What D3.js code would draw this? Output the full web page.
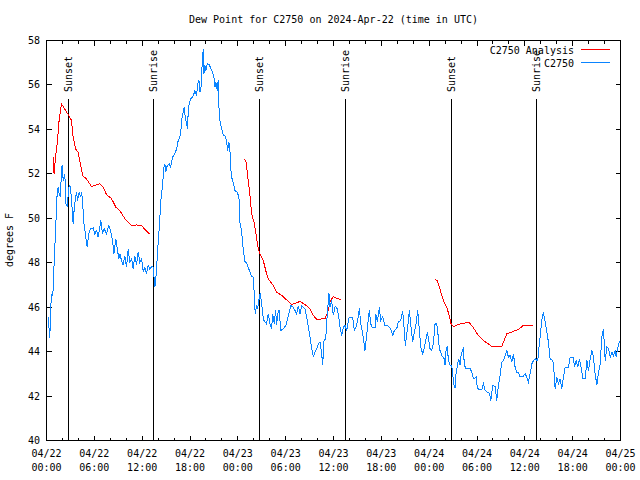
<!DOCTYPE html>
<html><head><meta charset="utf-8">
<script src="https://cdn.jsdelivr.net/npm/d3@7"></script>
<style>
html,body{margin:0;padding:0;background:#fff;}
svg text{font-family:"DejaVu Sans Mono","Liberation Mono",monospace;font-size:10px;fill:#000;}
</style></head>
<body><svg id="c" width="640" height="480"></svg>
<script>
// ---- data (hours since 2024-04-22 00:00 UTC) ----
const titleText = "Dew Point for C2750 on 2024-Apr-22 (time in UTC)";
const yLabel = "degrees F";
const seriesNames = ["C2750 Analysis", "C2750"];
const seriesColors = ["#ff0000", "#0a84ff"];

const yTicks = [40, 42, 44, 46, 48, 50, 52, 54, 56, 58];
const xTickHours = [0, 6, 12, 18, 24, 30, 36, 42, 48, 54, 60, 66, 72];
const xTickDates = ["04/22","04/22","04/22","04/22","04/23","04/23","04/23","04/23","04/24","04/24","04/24","04/24","04/25"];
const xTickTimes = ["00:00","06:00","12:00","18:00","00:00","06:00","12:00","18:00","00:00","06:00","12:00","18:00","00:00"];

const sunHours = [2.71, 13.38, 26.69, 37.53, 50.75, 61.50];
const sunLabels = ["Sunset", "Sunrise", "Sunset", "Sunrise", "Sunset", "Sunrise"];

// Analysis series (null = gap)
const analysisHours = [0.83,0.95,1.13,1.38,1.58,1.88,2.30,2.71,3.14,3.34,3.68,3.97,4.39,4.59,5.02,5.65,6.06,6.69,7.10,7.53,8.16,8.70,9.20,9.83,10.67,11.30,11.92,12.46,12.88,
  18.0,
  24.80,25.02,25.18,25.30,25.52,25.73,26.02,26.27,26.56,26.77,27.19,27.61,27.82,28.44,28.87,29.50,30.12,30.75,31.38,31.79,32.42,33.05,33.46,33.89,34.93,35.35,35.56,35.97,36.40,36.94,
  42.0,
  48.74,49.03,49.28,49.58,49.87,50.21,50.50,50.75,51.04,51.66,52.29,53.04,53.55,54.17,54.80,55.43,55.86,57.11,57.74,58.37,59.19,59.75,61.00];
const analysisValues = [52.75,52.0,52.75,53.5,54.4,55.15,54.9,54.67,54.4,53.65,53.1,52.97,52.2,51.9,51.77,51.43,51.48,51.55,51.4,51.07,50.88,50.5,50.35,49.98,49.68,49.7,49.68,49.45,49.3,
  null,
  52.68,52.53,52.08,51.7,51.03,50.2,49.83,49.3,48.63,48.4,48.1,47.5,47.28,46.98,46.68,46.53,46.33,46.12,46.2,46.26,46.12,45.93,45.63,45.45,45.48,45.85,46.26,46.48,46.4,46.33,
  null,
  47.23,47.2,46.9,46.53,46.22,46.0,45.63,45.25,45.13,45.22,45.28,45.31,45.07,44.73,44.5,44.35,44.23,44.23,44.8,44.88,45.0,45.16,45.16];

// Observed series
const obsHours = [0.20,0.33,0.41,0.54,0.67,0.79,0.92,1.04,1.17,1.26,1.46,1.58,1.76,1.88,2.01,2.08,2.30,2.42,2.59,2.84,3.01,3.14,3.26,3.34,3.46,3.64,3.77,3.89,4.09,4.27,4.39,4.52,4.68,4.93,5.10,5.31,5.52,5.85,6.06,6.28,6.48,6.69,6.82,7.03,7.23,7.53,7.82,8.03,8.28,8.45,8.70,8.91,9.08,9.20,9.41,9.61,9.83,10.04,10.24,10.46,10.67,10.87,11.08,11.30,11.50,11.71,11.92,12.13,12.34,12.55,12.75,12.97,13.18,13.38,13.59,13.81,13.88,14.13,14.35,14.56,14.72,14.85,14.97,15.14,15.39,15.56,15.82,16.10,16.32,16.52,16.73,16.86,16.95,17.15,17.27,17.40,17.57,17.70,17.77,17.90,18.07,18.33,18.49,18.61,18.83,18.95,19.12,19.24,19.37,19.53,19.66,19.74,19.87,20.00,20.16,20.41,20.62,20.84,21.00,21.13,21.25,21.41,21.54,21.63,21.75,21.97,22.17,22.38,22.59,22.72,22.88,23.01,23.10,23.22,23.42,23.64,23.92,24.14,24.26,24.48,24.68,24.89,25.10,25.30,25.52,25.73,25.93,26.06,26.18,26.36,26.48,26.65,26.81,26.99,27.11,27.28,27.61,27.82,28.03,28.24,28.37,28.57,28.74,28.87,29.00,29.20,29.37,29.70,30.04,30.33,30.66,30.95,31.17,31.38,31.58,31.79,32.01,32.21,32.42,32.64,32.84,33.05,33.26,33.46,33.68,33.89,34.09,34.31,34.52,34.64,34.81,35.02,35.22,35.43,35.56,35.77,35.97,36.19,36.40,36.60,36.82,37.03,37.23,37.44,37.66,37.94,38.41,38.61,38.82,39.04,39.24,39.41,39.58,39.74,39.95,40.17,40.37,40.49,40.67,40.87,41.21,41.33,41.50,41.75,41.92,42.17,42.46,42.88,43.18,43.43,43.63,43.93,44.13,44.43,44.68,44.85,45.01,45.19,45.35,45.51,45.73,45.94,46.10,46.35,46.57,46.77,46.94,47.19,47.40,47.61,47.77,47.95,48.11,48.32,48.53,48.74,48.95,49.15,49.28,49.58,49.87,49.99,50.12,50.28,50.41,50.62,50.84,50.96,51.12,51.25,51.37,51.54,51.71,51.88,52.00,52.17,52.29,52.38,52.54,52.79,53.13,53.35,53.55,53.89,54.05,54.60,54.80,55.02,55.30,55.56,55.73,55.98,56.27,56.48,56.68,56.90,57.11,57.31,57.53,57.74,57.94,58.15,58.37,58.57,58.78,58.99,59.19,59.41,59.62,59.82,60.04,60.25,60.45,60.66,60.88,61.08,61.29,61.50,61.63,61.79,61.92,62.13,62.33,62.55,62.76,62.96,63.17,63.51,63.71,63.80,64.01,64.22,64.43,64.64,64.84,65.06,65.47,65.68,66.10,66.22,66.44,66.65,66.85,67.06,67.28,67.57,67.78,67.98,68.20,68.41,68.61,68.82,69.04,69.24,69.45,69.66,69.86,70.08,70.29,70.49,70.71,70.92,71.12,71.34,71.46,71.62,71.84,71.96];
const obsValues = [45.55,45.0,44.6,46.07,46.6,46.5,47.65,48.7,49.6,50.8,51.4,51.1,50.95,52.3,52.37,51.7,52.0,50.65,50.57,51.48,51.4,50.8,50.2,49.75,50.35,50.95,51.17,50.8,51.17,50.95,51.17,50.8,49.82,49.15,48.7,49.3,49.53,49.57,49.3,49.45,49.15,49.6,49.9,49.3,49.53,49.3,49.68,49.45,49.0,48.4,49.08,48.55,48.18,48.4,48.1,47.9,48.3,47.8,48.6,48.0,48.2,47.7,48.3,47.9,48.5,48.0,48.2,47.6,47.8,47.5,47.9,47.7,47.83,47.8,46.9,47.65,48.25,49.53,50.8,51.48,52.3,52.45,52.08,52.37,52.45,52.3,52.75,52.9,53.13,53.5,53.65,53.95,54.4,54.78,55.0,54.55,54.25,54.03,54.78,55.15,55.38,55.45,55.6,55.75,55.53,56.05,56.2,55.68,55.83,56.95,57.63,56.5,56.88,56.65,56.95,56.92,56.73,56.58,56.35,55.9,56.13,55.75,56.2,55.0,54.4,54.03,53.73,53.73,53.5,53.05,53.43,53.05,52.3,51.85,51.6,51.25,51.17,50.95,49.83,49.4,48.6,48.05,48.0,47.8,47.57,47.4,47.35,46.6,45.7,46.07,45.93,46.33,46.63,46.15,45.7,45.4,45.25,45.7,45.25,45.03,45.7,45.25,45.85,45.18,45.7,45.88,44.95,45.03,45.18,45.63,46.07,46.0,45.85,45.7,46.07,45.7,46.07,46.0,45.93,45.55,45.1,44.65,44.13,43.78,43.97,44.13,44.35,44.43,43.9,43.4,44.5,44.58,45.7,46.63,46.0,46.3,45.63,46.03,46.0,45.7,45.1,44.7,45.1,45.18,44.95,45.52,45.52,44.95,45.1,45.4,45.95,45.3,44.95,44.65,44.05,44.75,45.5,45.85,45.25,45.07,45.07,45.67,45.33,46.0,45.4,45.55,45.18,45.15,45.03,44.73,44.95,45.03,45.33,45.4,45.82,45.1,44.27,44.8,45.25,45.85,45.1,44.43,44.8,45.25,45.85,44.95,44.2,43.9,44.2,44.58,44.88,44.5,44.13,44.05,44.35,45.25,45.25,44.65,44.13,43.83,43.68,43.38,44.05,44.23,43.6,43.38,43.38,42.93,42.48,42.37,43.0,43.38,43.68,43.38,43.83,44.05,44.13,43.6,43.23,43.25,43.25,43.07,42.78,42.85,42.33,42.28,42.55,42.25,42.17,42.13,41.8,42.48,42.43,41.8,42.48,42.93,43.52,43.6,43.83,44.05,43.75,43.83,43.52,43.9,43.3,43.07,43.07,42.85,42.9,42.9,43.0,42.85,42.63,43.0,43.45,43.6,43.68,43.6,43.6,44.27,44.65,45.4,45.78,45.33,44.88,44.43,43.68,43.6,42.93,42.33,42.85,42.55,42.78,42.33,42.85,43.3,43.3,43.75,43.75,43.3,43.6,43.3,43.68,43.3,42.78,42.78,43.6,43.15,43.68,44.05,43.75,43.0,42.48,43.07,43.45,44.65,45.03,43.6,44.2,44.13,43.75,43.97,43.83,44.05,43.75,44.13,44.43,44.47];

// ---- drawing ----
const L = 46.5, R = 620.5, T = 40.5, B = 440.5;
const svg = d3.select("#c");
const x = d3.scaleLinear().domain([0, 72]).range([L, R]);
const y = d3.scaleLinear().domain([40, 58]).range([B, T]);

// title
svg.append("text").attr("x", (L + R) / 2).attr("y", 23).attr("text-anchor", "middle").text(titleText);

// y label
svg.append("text").attr("transform", "translate(13,240) rotate(-90)").attr("text-anchor", "middle").text(yLabel);

const ax = svg.append("g").attr("shape-rendering", "crispEdges").attr("stroke", "#000").attr("stroke-width", 1);

// y ticks (left & right, inward)
yTicks.forEach(v => {
  const yy = Math.round(y(v) - 0.5) + 0.5;
  ax.append("line").attr("x1", L).attr("x2", L + 5).attr("y1", yy).attr("y2", yy);
  ax.append("line").attr("x1", R - 5).attr("x2", R).attr("y1", yy).attr("y2", yy);
});
svg.append("g").selectAll("text").data(yTicks).join("text")
  .attr("x", 40).attr("y", d => y(d)).attr("dy", "0.35em").attr("text-anchor", "end").text(d => d);

// x ticks: major every 6h, minor every 2h
d3.range(0, 73, 2).forEach(h => {
  const major = h % 6 === 0;
  const len = major ? 5 : 3;
  const xx = Math.round(x(h) - 0.5) + 0.5;
  ax.append("line").attr("x1", xx).attr("x2", xx).attr("y1", B).attr("y2", B - len);
  ax.append("line").attr("x1", xx).attr("x2", xx).attr("y1", T).attr("y2", T + len);
});
const xl = svg.append("g");
xTickHours.forEach((h, i) => {
  xl.append("text").attr("x", x(h)).attr("y", 457).attr("text-anchor", "middle").text(xTickDates[i]);
  xl.append("text").attr("x", x(h)).attr("y", 471).attr("text-anchor", "middle").text(xTickTimes[i]);
});

// sunrise / sunset markers
sunHours.forEach((h, i) => {
  const xx = Math.round(x(h) - 0.5) + 0.5;
  ax.append("line").attr("x1", xx).attr("x2", xx).attr("y1", 99).attr("y2", B);
  svg.append("text").attr("transform", `translate(${xx},92) rotate(-90)`)
    .attr("text-anchor", "start").attr("dy", "0.35em").text(sunLabels[i]);
});

// series
const line = d3.line().defined(d => d[1] !== null).x(d => x(d[0])).y(d => y(d[1]));
const aData = analysisHours.map((h, i) => [h, analysisValues[i]]);
const oData = obsHours.map((h, i) => [h, obsValues[i]]);
svg.append("path").datum(aData).attr("d", line).attr("fill", "none").attr("stroke", seriesColors[0]).attr("stroke-width", 1).attr("shape-rendering", "crispEdges");
svg.append("path").datum(oData).attr("d", line).attr("fill", "none").attr("stroke", seriesColors[1]).attr("stroke-width", 1).attr("shape-rendering", "crispEdges");

// legend
const lg = [[seriesNames[0], seriesColors[0], 50], [seriesNames[1], seriesColors[1], 63]];
lg.forEach(([name, col, yy]) => {
  svg.append("text").attr("x", 574).attr("y", yy).attr("dy", "0.35em").attr("text-anchor", "end").text(name);
  svg.append("line").attr("x1", 581).attr("x2", 610).attr("y1", yy - 0.5).attr("y2", yy - 0.5)
    .attr("stroke", col).attr("stroke-width", 1).attr("shape-rendering", "crispEdges");
});

// border
ax.append("rect").attr("x", L).attr("y", T).attr("width", R - L).attr("height", B - T).attr("fill", "none");
</script></body></html>
